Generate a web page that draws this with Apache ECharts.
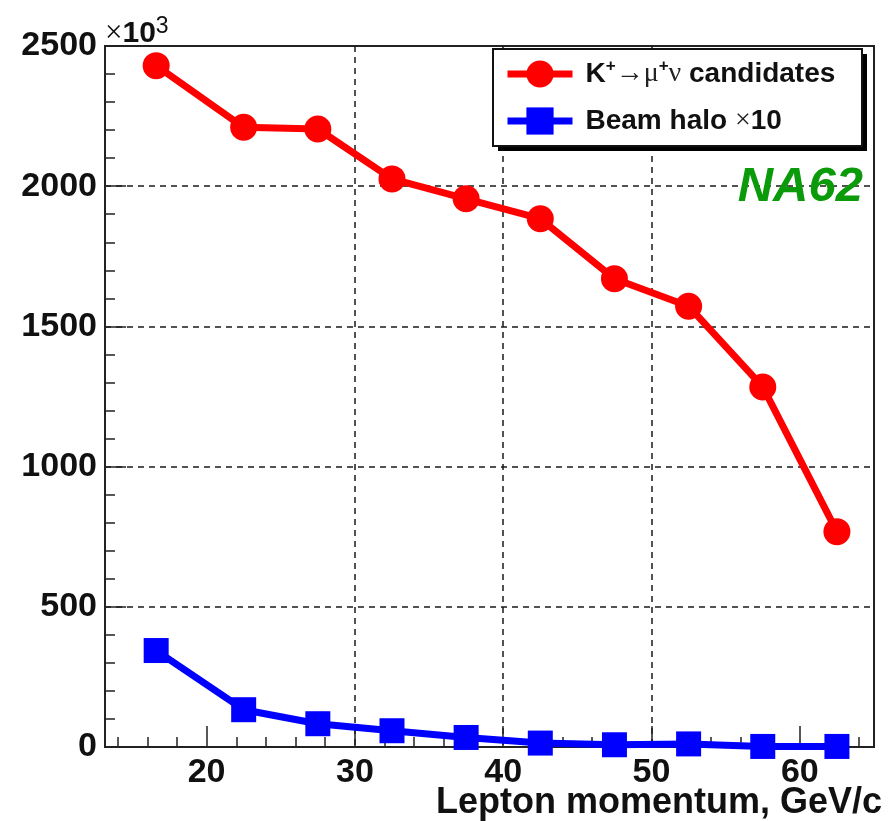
<!DOCTYPE html>
<html>
<head>
<meta charset="utf-8">
<script src="https://cdn.jsdelivr.net/npm/echarts@6/dist/echarts.min.js"></script>
<style>
  html, body { margin: 0; padding: 0; background: #fff; }
  #chart { width: 888px; height: 821px; }
</style>
</head>
<body>
<div id="chart"></div>
<script>
// Bin centres (GeV/c) and counts in units of 10^3
const momentumBins = [16.6, 22.5, 27.5, 32.5, 37.5, 42.5, 47.5, 52.5, 57.5, 62.5];
const kmuCandidates = [2430, 2210, 2204, 2026, 1955, 1884, 1670, 1572, 1284, 768];
const beamHaloX10 = [344, 133, 83, 58, 34, 14, 8, 11, 2, 2];

// Axis ticks
const xMajorTicks = [20, 30, 40, 50, 60];
const xMinorTicks = [14, 16, 18, 22, 24, 26, 28, 32, 34, 36, 38, 42, 44, 46, 48, 52, 54, 56, 58, 62, 64];
const yTickLabels = [0, 500, 1000, 1500, 2000, 2500];

const seriesNames = ['K+→μ+ν candidates', 'Beam halo ×10'];
const xTitle = 'Lepton momentum, GeV/c';
const experimentTag = 'NA62';

const FONT = '"Liberation Sans", Arial, Helvetica, sans-serif';
const SYMFONT = '"Liberation Serif", "DejaVu Serif", serif';

const chart = echarts.init(document.getElementById('chart'), null, { renderer: 'canvas' });

const toPairs = (xs, ys) => xs.map((x, i) => [x, ys[i]]);

const option = {
  animation: false,
  backgroundColor: '#fff',
  grid: {
    left: 105, right: 14, top: 46, bottom: 74,
    containLabel: false, outerBoundsMode: 'none',
    show: true, borderColor: '#222', borderWidth: 2, backgroundColor: 'transparent'
  },
  xAxis: [
    {
      type: 'value', min: 13.15, max: 65, position: 'bottom',
      axisLine: { show: true, onZero: false, lineStyle: { color: '#222', width: 2 } },
      axisTick: { show: true, inside: true, length: 21, customValues: xMajorTicks,
                  lineStyle: { color: '#222', width: 1.5 } },
      axisLabel: { show: true, customValues: xMajorTicks, margin: 9,
                   fontFamily: FONT, fontWeight: 'bold', fontSize: 34, lineHeight: 34, color: '#111' },
      splitLine: { show: true, showMinLine: false, showMaxLine: false,
                   lineStyle: { color: '#1a1a1a', width: 1.5, type: [6, 5] } }
    },
    {
      type: 'value', min: 13.15, max: 65, position: 'bottom',
      axisLine: { show: false, onZero: false },
      axisTick: { show: true, inside: true, length: 10, customValues: xMinorTicks,
                  lineStyle: { color: '#222', width: 1.5 } },
      axisLabel: { show: false },
      splitLine: { show: false }
    }
  ],
  yAxis: {
    type: 'value', min: 0, max: 2500, interval: 500,
    axisLine: { show: true, lineStyle: { color: '#222', width: 2 } },
    axisTick: { show: true, inside: true, length: 21, lineStyle: { color: '#222', width: 1.5 } },
    minorTick: { show: true, splitNumber: 5, length: 10, lineStyle: { color: '#222', width: 1.5 } },
    axisLabel: {
      margin: 8, fontFamily: FONT, fontWeight: 'bold', fontSize: 34, color: '#111',
      formatter: v => (yTickLabels.indexOf(v) >= 0 ? String(v) : '')
    },
    splitLine: { show: true, showMinLine: false, showMaxLine: false,
                 lineStyle: { color: '#1a1a1a', width: 1.5, type: [6, 5] } },
    name: '{x|×}{n|10}{e|3}',
    nameLocation: 'end', nameGap: -3,
    nameTextStyle: {
      align: 'left', verticalAlign: 'bottom', color: '#111',
      rich: {
        x: { fontFamily: SYMFONT, fontSize: 31, color: '#111', lineHeight: 34, verticalAlign: 'bottom' },
        n: { fontFamily: FONT, fontWeight: 'bold', fontSize: 30, color: '#111', lineHeight: 34, verticalAlign: 'bottom' },
        e: { fontFamily: FONT, fontSize: 23, color: '#111', lineHeight: 34, verticalAlign: 'top' }
      }
    }
  },
  legend: {
    data: seriesNames,
    orient: 'vertical',
    left: 504, top: 58,
    padding: 0,
    itemWidth: 65, itemHeight: 34, itemGap: 19,
    z: 6,
    lineStyle: { width: 7 },
    formatter: name => name === seriesNames[0]
      ? '{b|K}{p|+}{s|→μ}{p|+}{s|ν}{b| candidates}'
      : '{b|Beam halo }{s|×}{b|10}',
    textStyle: {
      padding: [0, 0, 0, 8],
      rich: {
        b: { fontFamily: FONT, fontWeight: 'bold', fontSize: 28, color: '#111', lineHeight: 32 },
        s: { fontFamily: SYMFONT, fontSize: 28, color: '#222', lineHeight: 32 },
        p: { fontFamily: FONT, fontWeight: 'bold', fontSize: 17, color: '#111', lineHeight: 32, verticalAlign: 'top' }
      }
    }
  },
  graphic: [
    // legend frame with its drop shadow
    { type: 'rect', z: 5, shape: { x: 498, y: 54, width: 369, height: 97 },
      style: { fill: '#000' } },
    { type: 'rect', z: 5, shape: { x: 493, y: 49, width: 369, height: 97 },
      style: { fill: '#fff', stroke: '#111', lineWidth: 2 } },
    {
      type: 'text', x: 863, y: 187, z: 100,
      style: {
        text: experimentTag, fill: '#0a9a0a',
        font: 'italic bold 49px ' + FONT,
        align: 'right', verticalAlign: 'middle'
      }
    },
    {
      type: 'text', x: 882, y: 803, z: 100,
      style: {
        text: xTitle, fill: '#111',
        font: 'bold 36px ' + FONT,
        align: 'right', verticalAlign: 'middle'
      }
    }
  ],
  series: [
    {
      name: seriesNames[0], type: 'line', xAxisIndex: 0,
      data: toPairs(momentumBins, kmuCandidates),
      symbol: 'circle', symbolSize: 27,
      lineStyle: { color: '#ff0000', width: 7 },
      itemStyle: { color: '#ff0000' },
      z: 3
    },
    {
      name: seriesNames[1], type: 'line', xAxisIndex: 0,
      data: toPairs(momentumBins, beamHaloX10),
      symbol: 'rect', symbolSize: 25,
      lineStyle: { color: '#0000ff', width: 7 },
      itemStyle: { color: '#0000ff' },
      z: 3
    }
  ]
};

chart.setOption(option);
</script>
</body>
</html>
